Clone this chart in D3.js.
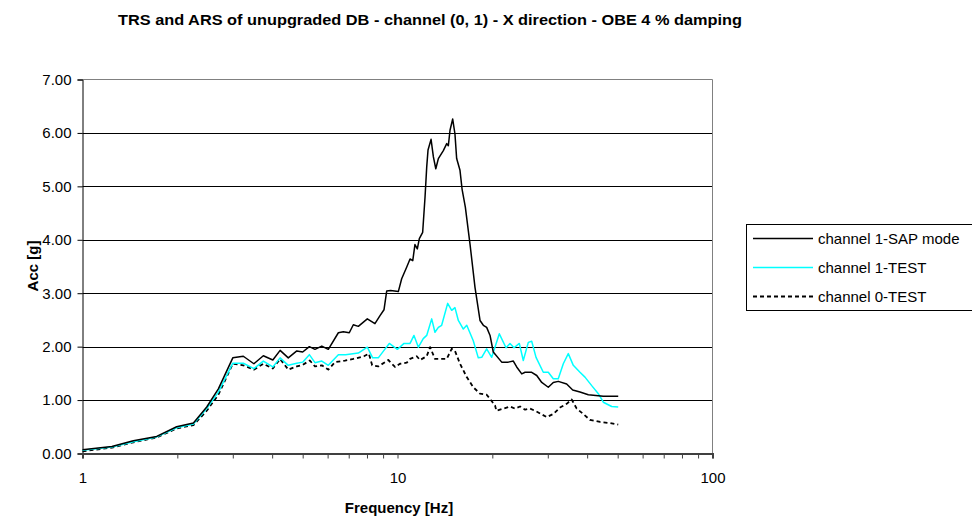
<!DOCTYPE html>
<html lang="en">
<head>
    <meta charset="UTF-8">
    <title>TRS and ARS</title>
    <style>
        body { margin: 0; background: #fff; }
        text { font-family: "Liberation Sans", Arial, sans-serif; fill: #000; }
    </style>
    <script src="https://d3js.org/d3.v7.min.js"></script>
</head>
<body>
<script>

    // channel 1 - SAP model
    let sapFreq = [1.00, 1.24, 1.45, 1.72, 1.99, 2.25, 2.48, 2.70, 3.00, 3.24, 3.50, 3.75, 4.02, 4.24, 4.50, 4.79,
        5.00, 5.25, 5.47, 5.75, 6.03, 6.49, 6.73, 7.03, 7.24, 7.51, 8.02, 8.48, 8.80, 9.06, 9.24, 9.51, 10.06,
        10.31, 10.70, 10.96, 11.18, 11.36, 11.56, 11.73, 12.02, 12.23, 12.38, 12.50, 12.78, 13.00, 13.23, 13.48,
        13.98, 14.33, 14.50, 14.68, 14.97, 15.22, 15.41, 15.79, 16.03, 16.42, 16.99, 17.62, 18.28, 18.73, 19.19,
        19.67, 20.14, 21.42, 22.47, 23.32, 23.90, 24.80, 25.41, 26.67, 27.67, 28.70, 30.11, 31.23, 32.39, 34.44,
        35.99, 37.96, 40.34, 45.02, 50.2]
    let sapAcc = [0.07, 0.13, 0.24, 0.32, 0.50, 0.57, 0.87, 1.21, 1.79, 1.82, 1.68, 1.83, 1.75, 1.93, 1.79, 1.92,
        1.90, 2.00, 1.95, 2.01, 1.95, 2.26, 2.28, 2.26, 2.41, 2.38, 2.52, 2.43, 2.58, 2.69, 3.04, 3.05, 3.03,
        3.27, 3.49, 3.64, 3.61, 3.91, 3.83, 4.02, 4.14, 4.80, 5.36, 5.68, 5.88, 5.55, 5.33, 5.52,
        5.67, 5.80, 5.76, 6.05, 6.26, 5.98, 5.52, 5.30, 4.95, 4.61, 3.92, 3.11, 2.49, 2.40, 2.36,
        2.21, 1.90, 1.71, 1.71, 1.73, 1.62, 1.49, 1.52, 1.52, 1.46, 1.33, 1.24, 1.33, 1.35, 1.30,
        1.19, 1.15, 1.10, 1.07, 1.07]

    // channel 1 - TEST
    let ch1Freq = [1.00, 1.24, 1.45, 1.72, 1.99, 2.25, 2.48, 2.70, 3.00, 3.24, 3.50, 3.75, 4.02, 4.24, 4.50, 4.79,
        5.00, 5.25, 5.47, 5.75, 6.03, 6.49, 6.84, 7.51, 8.02, 8.34, 8.69, 9.06, 9.42, 9.99, 10.49, 10.96, 11.28,
        11.65, 12.07, 12.38, 12.84, 13.15, 13.48, 13.81, 14.43, 14.86, 15.22, 15.60, 16.18, 16.59, 17.40, 18.05,
        18.51, 19.19, 19.91, 21.05, 22.11, 22.76, 23.44, 24.36, 25.08, 26.02, 26.67, 27.53, 29.03, 30.11, 31.23,
        32.39, 33.60, 34.85, 36.15, 37.96, 39.37, 41.36, 43.41, 45.02, 47.86, 50.2]
    let ch1Acc = [0.06, 0.12, 0.22, 0.31, 0.48, 0.55, 0.84, 1.15, 1.69, 1.69, 1.59, 1.73, 1.62, 1.79, 1.65, 1.69,
        1.71, 1.85, 1.70, 1.73, 1.65, 1.85, 1.85, 1.88, 1.99, 1.79, 1.79, 1.93, 2.06, 1.95, 2.06, 2.06, 2.21,
        1.99, 2.15, 2.21, 2.52, 2.27, 2.36, 2.40, 2.81, 2.68, 2.73, 2.49, 2.33, 2.40, 2.11, 1.79,
        1.80, 1.96, 1.80, 2.24, 1.98, 2.06, 1.98, 2.06, 1.74, 2.08, 2.10, 1.80, 1.52, 1.52, 1.40,
        1.40, 1.68, 1.87, 1.65, 1.52, 1.43, 1.27, 1.12, 0.96, 0.88, 0.87]

    // channel 0 - TEST
    let ch0Freq = [1.00, 1.24, 1.45, 1.72, 1.99, 2.25, 2.48, 2.70, 3.00, 3.24, 3.50, 3.75, 4.02, 4.24, 4.50, 4.79,
        5.00, 5.27, 5.47, 5.75, 6.03, 6.33, 6.81, 7.24, 7.82, 8.11, 8.31, 8.69, 9.13, 9.35, 9.82, 10.18, 10.70,
        10.96, 11.51, 11.79, 12.38, 12.69, 13.15, 14.33, 14.86, 15.22, 15.79, 16.59, 17.40, 18.28, 19.19, 19.67,
        20.40, 20.60, 21.67, 22.76, 23.60, 24.49, 25.41, 26.34, 27.33, 28.35, 29.77, 31.23, 32.81, 34.44, 35.73,
        37.06, 38.89, 40.83, 43.95, 47.27, 50.2]
    let ch0Acc = [0.04, 0.11, 0.21, 0.30, 0.47, 0.53, 0.80, 1.10, 1.68, 1.65, 1.57, 1.68, 1.59, 1.77, 1.57, 1.63,
        1.66, 1.74, 1.63, 1.65, 1.57, 1.71, 1.74, 1.77, 1.82, 1.87, 1.65, 1.63, 1.71, 1.75, 1.62, 1.68, 1.70,
        1.77, 1.82, 1.75, 1.82, 1.99, 1.77, 1.77, 1.96, 1.92, 1.68, 1.43, 1.24, 1.12, 1.10, 1.02,
        0.90, 0.80, 0.84, 0.88, 0.84, 0.88, 0.82, 0.84, 0.80, 0.75, 0.68, 0.74, 0.86, 0.93, 1.01,
        0.84, 0.74, 0.63, 0.59, 0.57, 0.54]

    let yTicks = [0, 1, 2, 3, 4, 5, 6, 7]
    let xTicks = [1, 10, 100]
    let seriesNames = ["channel 1-SAP mode", "channel 1-TEST", "channel 0-TEST"]
    let seriesColors = ["#000000", "#00ffff", "#000000"]
    let seriesDash = [null, null, "4,3"]

    let width = 972;
    let height = 520;
    let plotLeft = 82.5, plotRight = 712.5, plotTop = 79.5, plotBottom = 453.5;

    let svg = d3.select("body").append("svg")
        .attr("width", width).attr("height", height);

    let x = d3.scaleLog().domain([1, 100]).range([plotLeft, plotRight]);
    let y = d3.scaleLinear().domain([0, 7]).range([plotBottom, plotTop]);

    // gridlines
    svg.append("g")
        .selectAll("line")
        .data(yTicks.slice(1, -1))
        .enter()
        .append("line")
        .attr("x1", plotLeft).attr("x2", plotRight)
        .attr("y1", d => Math.round(y(d)) + 0.5).attr("y2", d => Math.round(y(d)) + 0.5)
        .style("stroke", "#000").style("stroke-width", 1)

    // plot border (top + right)
    svg.append("path")
        .attr("d", "M" + plotLeft + "," + plotTop + "H" + plotRight + "V" + plotBottom)
        .attr("fill", "none")
        .style("stroke", "#808080").style("stroke-width", 1)

    // y axis
    let yAxis = d3.axisLeft(y).tickValues(yTicks).tickSize(5).tickPadding(6).tickFormat(d3.format(".2f"));
    let gy = svg.append("g").attr("transform", "translate(" + plotLeft + ",0)").call(yAxis);
    gy.select(".domain").style("stroke", "#000");
    gy.selectAll("text").style("font-size", "15px").style("font-family", "'Liberation Sans', Arial, sans-serif");

    // x axis
    let minor = [];
    [1, 10].forEach(function (dec) {
        for (let k = 2; k <= 9; k++) minor.push(dec * k);
    });
    let xAxis = d3.axisBottom(x).tickValues(xTicks.concat(minor)).tickSize(5).tickPadding(14)
        .tickFormat(d => xTicks.indexOf(d) >= 0 ? d : "");
    let gx = svg.append("g").attr("transform", "translate(0," + plotBottom + ")").call(xAxis);
    gx.select(".domain").style("stroke", "#404040").style("stroke-width", 2);
    gx.selectAll(".tick line").style("stroke", "#404040");
    gx.selectAll("text").style("font-size", "15px").style("font-family", "'Liberation Sans', Arial, sans-serif");

    // series
    let line = d3.line()
        .x(d => x(d[0]))
        .y(d => y(d[1]));

    let series = [
        d3.zip(sapFreq, sapAcc),
        d3.zip(ch1Freq, ch1Acc),
        d3.zip(ch0Freq, ch0Acc)
    ];

    // draw order: dashed, cyan, black
    [2, 1, 0].forEach(function (i) {
        svg.append("path")
            .datum(series[i])
            .attr("d", line)
            .attr("fill", "none")
            .style("stroke", seriesColors[i])
            .style("stroke-width", i === 2 ? 1.8 : 1.5)
            .style("stroke-dasharray", seriesDash[i])
            .style("stroke-linejoin", "round")
    });

    // title and axis titles
    svg.append("text")
        .attr("x", 430).attr("y", 25)
        .attr("text-anchor", "middle")
        .attr("textLength", 624)
        .attr("lengthAdjust", "spacingAndGlyphs")
        .style("font-size", "14px").style("font-weight", "bold")
        .text("TRS and ARS of unupgraded DB - channel (0, 1) - X direction - OBE 4 % damping");

    svg.append("text")
        .attr("x", 399).attr("y", 513)
        .attr("text-anchor", "middle")
        .style("font-size", "15px").style("font-weight", "bold")
        .text("Frequency [Hz]");

    svg.append("text")
        .attr("transform", "translate(38,266) rotate(-90)")
        .attr("text-anchor", "middle")
        .style("font-size", "15px").style("font-weight", "bold")
        .text("Acc [g]");

    // legend
    let legend = svg.append("g");
    legend.append("rect")
        .attr("x", 746.5).attr("y", 224.5)
        .attr("width", 240).attr("height", 86)
        .attr("fill", "#fff")
        .style("stroke", "#000").style("stroke-width", 1);

    let items = legend.selectAll("g.item")
        .data(seriesNames)
        .enter()
        .append("g")
        .attr("class", "item")
        .attr("transform", (d, i) => "translate(0," + [238.5, 267.5, 296.5][i] + ")");

    items.append("line")
        .attr("x1", 753).attr("x2", 813)
        .style("stroke", (d, i) => seriesColors[i])
        .style("stroke-width", (d, i) => i === 2 ? 1.8 : 1.5)
        .style("stroke-dasharray", (d, i) => seriesDash[i]);

    items.append("text")
        .attr("x", 818).attr("y", 5)
        .style("font-size", "15px")
        .text(d => d);

</script>
</body>
</html>
